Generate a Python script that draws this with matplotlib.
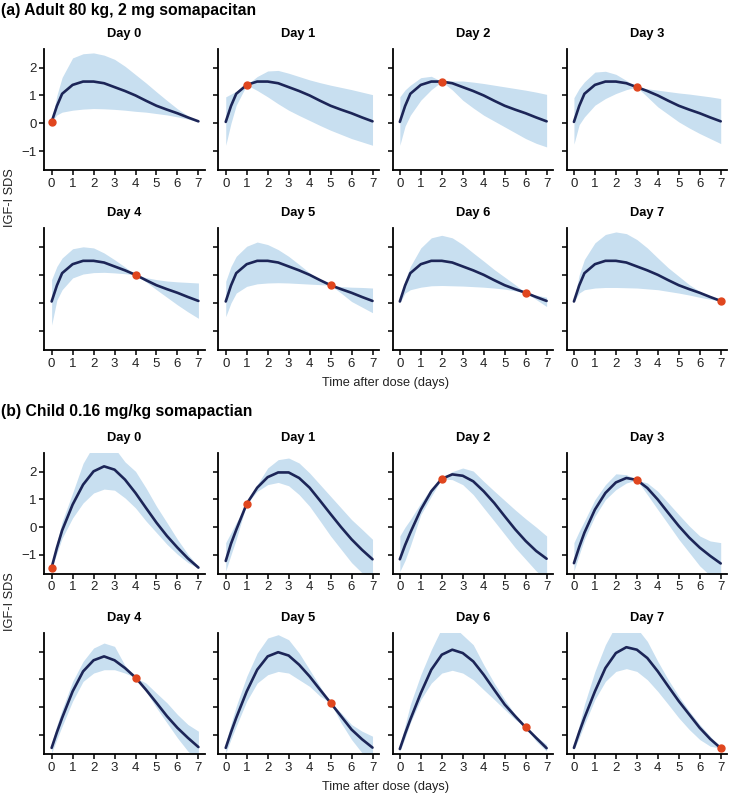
import numpy as np
import matplotlib
matplotlib.use('Agg')
import matplotlib.pyplot as plt

plt.rcParams['font.family'] = ['Liberation Sans', 'DejaVu Sans']

# time grid (days after dose)
t = [0, 0.25, 0.5, 1, 1.5, 2, 2.5, 3, 3.5, 4, 4.5, 5, 5.5, 6, 6.5, 7]
days = [0, 1, 2, 3, 4, 5, 6, 7]

# (a) adult: population mean curve, and band per sampling day
adult_mean = [0.05, 0.62, 1.06, 1.38, 1.5, 1.5, 1.44, 1.3, 1.16, 1.0, 0.81, 0.63, 0.49, 0.36, 0.21, 0.07]
adult_upper = [
    [0.05, 1.0, 1.65, 2.35, 2.5, 2.53, 2.45, 2.3, 2.05, 1.75, 1.45, 1.13, 0.82, 0.52, 0.27, 0.05],
    [0.95, 1.05, 1.15, 1.38, 1.68, 1.88, 1.9, 1.8, 1.68, 1.56, 1.46, 1.37, 1.29, 1.21, 1.12, 1.03],
    [0.95, 1.2, 1.37, 1.64, 1.69, 1.5, 1.52, 1.52, 1.48, 1.43, 1.37, 1.31, 1.25, 1.19, 1.12, 1.04],
    [0.92, 1.25, 1.49, 1.84, 1.87, 1.76, 1.54, 1.3, 1.24, 1.19, 1.14, 1.09, 1.05, 1.0, 0.95, 0.89],
    [0.83, 1.3, 1.6, 1.93, 2.0, 1.96, 1.78, 1.54, 1.28, 1.0, 0.9, 0.83, 0.78, 0.75, 0.73, 0.71],
    [0.77, 1.3, 1.66, 2.02, 2.17, 2.08, 1.9, 1.66, 1.37, 1.07, 0.83, 0.63, 0.58, 0.56, 0.55, 0.53],
    [0.1, 0.8, 1.3, 1.96, 2.32, 2.41, 2.32, 2.08, 1.78, 1.49, 1.19, 0.92, 0.65, 0.36, 0.28, 0.2],
    [0.05, 1.0, 1.55, 2.14, 2.44, 2.53, 2.47, 2.26, 1.96, 1.6, 1.25, 0.95, 0.65, 0.41, 0.2, 0.07],
]
adult_lower = [
    [0.05, 0.3, 0.4, 0.47, 0.51, 0.53, 0.52, 0.5, 0.47, 0.43, 0.4, 0.35, 0.3, 0.23, 0.15, 0.05],
    [-0.79, 0.0, 0.65, 1.38, 1.18, 0.95, 0.7, 0.47, 0.28, 0.1, -0.08, -0.25, -0.4, -0.55, -0.67, -0.79],
    [-0.79, -0.1, 0.29, 0.83, 1.21, 1.5, 1.2, 0.83, 0.55, 0.29, 0.08, -0.13, -0.34, -0.55, -0.72, -0.85],
    [-0.75, -0.05, 0.23, 0.65, 0.89, 1.07, 1.21, 1.3, 0.95, 0.59, 0.32, 0.05, -0.17, -0.37, -0.55, -0.73],
    [-0.79, 0.1, 0.47, 0.89, 1.03, 1.08, 1.09, 1.07, 1.04, 1.0, 0.75, 0.47, 0.2, -0.07, -0.32, -0.55],
    [-0.49, 0.0, 0.35, 0.59, 0.68, 0.71, 0.72, 0.71, 0.69, 0.67, 0.65, 0.63, 0.35, 0.05, -0.15, -0.35],
    [0.0, 0.35, 0.47, 0.56, 0.61, 0.62, 0.61, 0.6, 0.58, 0.56, 0.53, 0.49, 0.43, 0.36, 0.12, -0.13],
    [0.05, 0.35, 0.47, 0.53, 0.55, 0.55, 0.54, 0.53, 0.5, 0.47, 0.41, 0.35, 0.28, 0.2, 0.13, 0.07],
]

# (b) child: mean curve and band per sampling day
child_mean = [
    [-1.46, -0.75, -0.12, 0.81, 1.53, 2.01, 2.19, 2.07, 1.71, 1.23, 0.69, 0.16, -0.32, -0.74, -1.13, -1.46],
    [-1.22, -0.6, -0.1, 0.84, 1.42, 1.8, 1.97, 1.97, 1.77, 1.42, 0.95, 0.47, 0.0, -0.44, -0.82, -1.16],
    [-1.16, -0.65, -0.2, 0.63, 1.29, 1.74, 1.9, 1.85, 1.65, 1.29, 0.87, 0.39, -0.08, -0.5, -0.86, -1.14],
    [-1.3, -0.72, -0.2, 0.63, 1.23, 1.61, 1.77, 1.7, 1.41, 0.99, 0.51, 0.04, -0.38, -0.74, -1.04, -1.31],
    [-1.46, -0.9, -0.38, 0.57, 1.29, 1.69, 1.83, 1.69, 1.41, 1.07, 0.63, 0.16, -0.32, -0.74, -1.1, -1.43],
    [-1.46, -0.9, -0.38, 0.57, 1.35, 1.83, 1.98, 1.86, 1.53, 1.11, 0.63, 0.16, -0.32, -0.8, -1.15, -1.45],
    [-1.5, -0.95, -0.44, 0.51, 1.35, 1.89, 2.07, 1.95, 1.65, 1.17, 0.63, 0.1, -0.32, -0.72, -1.1, -1.47],
    [-1.46, -0.9, -0.38, 0.57, 1.41, 1.95, 2.16, 2.07, 1.77, 1.29, 0.75, 0.22, -0.26, -0.74, -1.14, -1.47],
]
child_upper = [
    [-1.46, -0.55, 0.2, 1.23, 2.3, 2.95, 3.1, 2.85, 2.35, 2.01, 1.41, 0.75, 0.16, -0.44, -0.98, -1.42],
    [-0.56, -0.2, 0.16, 0.84, 1.53, 2.13, 2.43, 2.49, 2.31, 1.95, 1.53, 1.11, 0.69, 0.27, -0.08, -0.44],
    [-0.32, 0.0, 0.27, 0.87, 1.41, 1.74, 2.0, 2.13, 2.02, 1.65, 1.3, 0.96, 0.62, 0.3, 0.0, -0.32],
    [-0.56, -0.15, 0.22, 0.99, 1.53, 1.92, 1.89, 1.7, 1.59, 1.29, 0.87, 0.45, 0.04, -0.32, -0.5, -0.56],
    [-1.28, -0.65, -0.08, 0.93, 1.65, 2.13, 2.31, 2.19, 1.5, 1.07, 0.87, 0.51, 0.16, -0.26, -0.62, -0.86],
    [-1.28, -0.6, 0.04, 1.11, 1.95, 2.49, 2.61, 2.43, 1.95, 1.35, 0.75, 0.16, -0.2, -0.62, -0.86, -1.04],
    [-1.4, -0.65, 0.1, 1.17, 2.07, 2.85, 2.95, 2.6, 2.25, 1.53, 0.87, 0.28, -0.26, -0.72, -1.04, -1.34],
    [-1.4, -0.65, 0.1, 1.29, 2.25, 2.95, 3.05, 2.85, 2.37, 1.65, 0.99, 0.4, -0.14, -0.62, -1.04, -1.47],
]
child_lower = [
    [-1.46, -0.95, -0.4, 0.33, 0.87, 1.23, 1.37, 1.33, 1.05, 0.69, 0.22, -0.2, -0.62, -0.98, -1.28, -1.48],
    [-1.58, -1.0, -0.44, 0.84, 1.29, 1.53, 1.61, 1.49, 1.17, 0.75, 0.22, -0.32, -0.8, -1.28, -1.65, -1.9],
    [-1.6, -1.2, -0.68, 0.45, 1.11, 1.74, 1.71, 1.53, 1.17, 0.69, 0.22, -0.26, -0.74, -1.16, -1.58, -1.9],
    [-1.58, -1.0, -0.44, 0.39, 0.99, 1.35, 1.59, 1.7, 1.17, 0.63, 0.1, -0.44, -0.92, -1.4, -1.75, -2.0],
    [-1.64, -1.15, -0.68, 0.22, 0.93, 1.23, 1.35, 1.35, 1.23, 1.07, 0.57, -0.02, -0.56, -1.1, -1.58, -1.9],
    [-1.64, -1.15, -0.68, 0.22, 0.87, 1.17, 1.29, 1.23, 0.99, 0.75, 0.4, 0.16, -0.56, -1.16, -1.64, -1.95],
    [-1.58, -1.1, -0.56, 0.28, 0.87, 1.23, 1.33, 1.23, 0.99, 0.63, 0.28, -0.08, -0.44, -0.72, -1.22, -1.58],
    [-1.52, -1.1, -0.62, 0.28, 0.93, 1.29, 1.39, 1.29, 0.99, 0.57, 0.1, -0.38, -0.8, -1.16, -1.4, -1.47],
]

line_col = '#1c2557'
band_col = '#c8dff0'
dot_col = '#e0461e'

W, H = 729, 795
fig = plt.figure(figsize=(W / 100, H / 100), dpi=100)

# panel geometry in pixels
lefts = [44.3 + i * 174.1 for i in range(4)]
pw = 160.4
rows = [(49.3, 170.0), (228.3, 350.0), (453.3, 573.7), (633.3, 754.0)]


def panel(row, col, mean, up, lo, day):
    top, bot = rows[row]
    ax = fig.add_axes([lefts[col] / W, 1 - bot / H, pw / W, (bot - top) / H])
    ax.fill_between(t, lo, up, color=band_col, lw=0)
    ax.plot(t, mean, color=line_col, lw=1.9, solid_capstyle='round', solid_joinstyle='round')
    i = t.index(day)
    ax.plot([day], [mean[i]], 'o', color=dot_col, ms=5, zorder=5)
    ax.set_xlim(-0.35, 7.3)
    ax.set_ylim(-1.68, 2.66)
    ax.set_xticks(range(8))
    ax.set_yticks([-1, 0, 1, 2])
    for s in ['top', 'right']:
        ax.spines[s].set_visible(False)
    for s in ['left', 'bottom']:
        ax.spines[s].set_linewidth(1.3)
    ax.tick_params(direction='out', length=3.5, width=1.1, labelsize=9.5, pad=2,
                   labelcolor='#222222')
    # only the first panel of each section has y tick labels
    if not (col == 0 and row in (0, 2)):
        ax.set_yticklabels([])
    ax.set_title('Day %d' % day, fontsize=9.3, fontweight='bold', pad=9)
    return ax


for k, d in enumerate(days):
    r, c = divmod(k, 4)
    panel(r, c, adult_mean, adult_upper[k], adult_lower[k], d)
    panel(r + 2, c, child_mean[k], child_upper[k], child_lower[k], d)

fig.text(1 / W, 1 - 10 / H, '(a) Adult 80 kg, 2 mg somapacitan', fontsize=11.3,
         fontweight='bold', va='center', ha='left')
fig.text(1 / W, 1 - 411.5 / H, '(b) Child 0.16 mg/kg somapactian', fontsize=11.3,
         fontweight='bold', va='center', ha='left')
for yc, yl in [(383, 198), (787, 602)]:
    fig.text(386 / W, 1 - yc / H, 'Time after dose (days)', fontsize=9.2, ha='center',
             va='center', color='#222222')
    fig.text(10 / W, 1 - yl / H, 'IGF-I SDS', fontsize=9.2, rotation=90, ha='center',
             va='center', color='#222222')

plt.savefig('out.png', dpi=100)
